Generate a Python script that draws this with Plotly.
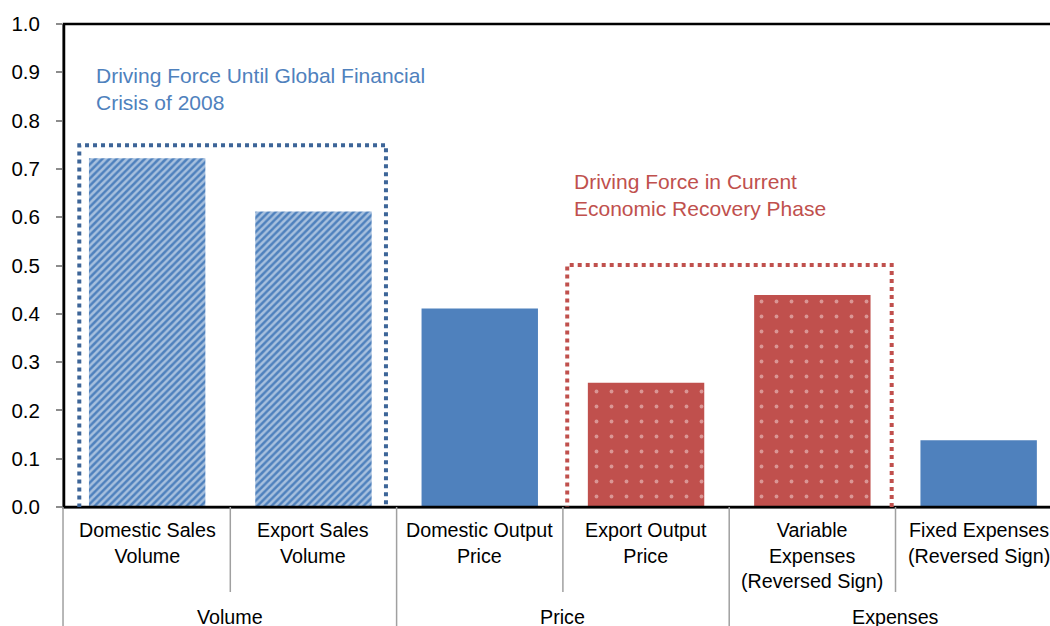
import plotly.graph_objects as go

categories = ["Domestic Sales<br>Volume", "Export Sales<br>Volume", "Domestic Output<br>Price",
              "Export Output<br>Price", "Variable<br>Expenses<br>(Reversed Sign)",
              "Fixed Expenses<br>(Reversed Sign)"]
groups = ["Volume", "Price", "Expenses"]
values = [0.722, 0.612, 0.411, 0.257, 0.439, 0.138]
styles = ["hatch", "hatch", "solid", "dots", "dots", "solid"]
y_ticks = [0.0, 0.1, 0.2, 0.3, 0.4, 0.5, 0.6, 0.7, 0.8, 0.9, 1.0]

BLUE = "#4F81BD"
RED = "#C0504D"
FONT = "Liberation Sans, Arial, sans-serif"

x_idx = list(range(len(categories)))

fig = go.Figure()
for i, (v, s) in enumerate(zip(values, styles)):
    if s == "hatch":
        marker = dict(color=BLUE, line=dict(width=0),
                      pattern=dict(shape="/", fgcolor="white", bgcolor=BLUE, size=5, solidity=0.5,
                                   fillmode="overlay"))
    elif s == "dots":
        marker = dict(color=RED, line=dict(width=0),
                      pattern=dict(shape=".", fgcolor="#F4DCDB", bgcolor=RED, size=15, solidity=0.05,
                                   fillmode="overlay"))
    else:
        marker = dict(color=BLUE, line=dict(width=0))
    fig.add_trace(go.Bar(x=[x_idx[i]], y=[v], width=0.7, marker=marker, hoverinfo="skip",
                         showlegend=False))

shapes = []
# plot frame (black)
shapes.append(dict(type="rect", xref="paper", yref="paper", x0=0, x1=1.05, y0=0, y1=1,
                   line=dict(color="black", width=2.5), layer="above"))
# dividers
for b in [0.5, 2.5, 4.5]:
    shapes.append(dict(type="line", xref="x", yref="paper", x0=b, x1=b, y0=0, y1=-0.176,
                       line=dict(color="#A0A0A0", width=1.5)))
for b in [1.5, 3.5]:
    shapes.append(dict(type="line", xref="x", yref="paper", x0=b, x1=b, y0=0, y1=-0.3,
                       line=dict(color="#A0A0A0", width=1.5)))
shapes.append(dict(type="line", xref="paper", yref="paper", x0=-0.001, x1=-0.001, y0=0, y1=-0.3,
                   line=dict(color="#A0A0A0", width=1.5)))
# highlight boxes
shapes.append(dict(type="rect", xref="x", yref="y", x0=-0.408, x1=1.436, y0=-0.022, y1=0.749,
                   line=dict(color="#3D6598", width=4, dash="dot"), layer="above"))
shapes.append(dict(type="rect", xref="x", yref="y", x0=2.526, x1=4.477, y0=-0.024, y1=0.501,
                   line=dict(color=RED, width=4, dash="dot"), layer="above"))

annotations = []
for i, c in enumerate(categories):
    annotations.append(dict(x=i, y=-0.02, xref="x", yref="paper", text=c, showarrow=False,
                            xanchor="center", yanchor="top", align="center",
                            font=dict(family=FONT, size=19.7, color="black")))
for g, gx in zip(groups, [0.5, 2.5, 4.5]):
    annotations.append(dict(x=gx, y=-0.228, xref="x", yref="paper", text=g, showarrow=False,
                            xanchor="center", yanchor="middle",
                            font=dict(family=FONT, size=19.7, color="black")))
annotations.append(dict(x=-0.322, y=0.921, xref="x", yref="y",
                        text="Driving Force Until Global Financial<br>Crisis of 2008",
                        showarrow=False, xanchor="left", yanchor="top", align="left",
                        font=dict(family=FONT, size=21, color=BLUE)))
annotations.append(dict(x=2.553, y=0.701, xref="x", yref="y",
                        text="Driving Force in Current<br>Economic Recovery Phase",
                        showarrow=False, xanchor="left", yanchor="top", align="left",
                        font=dict(family=FONT, size=21, color=RED)))

fig.update_layout(
    width=1050, height=626,
    margin=dict(l=64, r=0, t=24, b=119),
    paper_bgcolor="white", plot_bgcolor="white",
    bargap=0.3,
    shapes=shapes, annotations=annotations,
    xaxis=dict(range=[-0.5, 5.429], showticklabels=False, ticks="", showgrid=False,
               zeroline=False, showline=True, linecolor="#8C8C8C", linewidth=2, fixedrange=True),
    yaxis=dict(range=[0, 1.0], tickvals=y_ticks, tickformat=".1f", ticks="outside", ticklen=6,
               tickcolor="#8C8C8C", tickwidth=1.5, showgrid=False, zeroline=False,
               showline=True, linecolor="#8C8C8C", linewidth=2, ticklabelstandoff=12,
               tickfont=dict(family=FONT, size=20.5, color="black"), fixedrange=True),
)

fig.write_html("out.html")
